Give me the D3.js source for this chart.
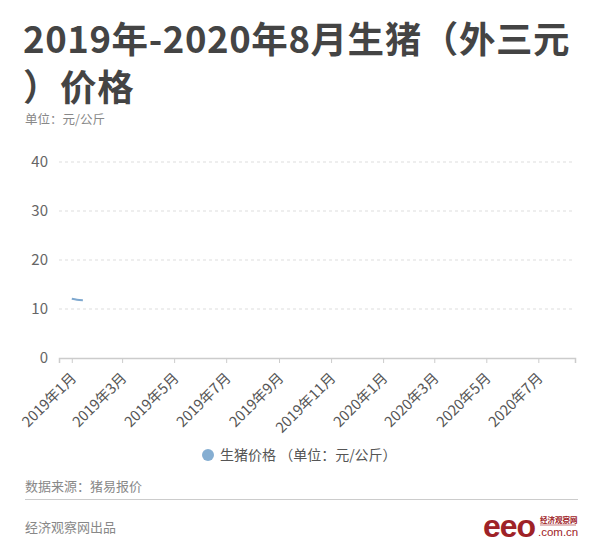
<!DOCTYPE html>
<html><head><meta charset="utf-8">
<script src="https://cdn.jsdelivr.net/npm/d3@7"></script>
<style>
html,body{margin:0;padding:0;background:#fff;}
svg{display:block;font-family:"Noto Sans CJK SC","Noto Sans",sans-serif;}
</style></head>
<body>
<svg id="c" width="600" height="557"></svg>
<script>
const titleLines = ["2019年-2020年8月生猪（外三元", "）价格"];
const unitText = "单位：元/公斤";
const seriesName = "生猪价格 （单位：元/公斤）";
const sourceText = "数据来源：猪易报价";
const producer = "经济观察网出品";
const dates = ["2019-01-01", "2019-01-07", "2019-01-14"];
const prices = [12.1, 11.9, 11.8];
const yTicks = [0, 10, 20, 30, 40];
const xDomain = ["2018-12-17", "2020-08-13"];

const svg = d3.select("#c");
const parse = d3.timeParse("%Y-%m-%d");
const data = dates.map((d, i) => ({date: parse(d), v: prices[i]}));

// title
svg.selectAll("text.title").data(titleLines).enter().append("text")
  .attr("class", "title")
  .attr("x", 23).attr("y", (d, i) => 53 + i * 48)
  .attr("font-size", 36.5).attr("font-weight", 700).attr("fill", "#444")
  .attr("letter-spacing", 0.6)
  .text(d => d);
svg.append("text").attr("x", 25).attr("y", 124).attr("font-size", 12.5)
  .attr("fill", "#888").text(unitText);

const x = d3.scaleTime().domain(xDomain.map(parse)).range([59, 575]);
const y = d3.scaleLinear().domain([0, 40]).range([358, 162]);

// grid
svg.append("g").selectAll("line").data(yTicks.filter(t => t > 0)).enter().append("line")
  .attr("x1", 59).attr("x2", 575).attr("y1", d => y(d)).attr("y2", d => y(d))
  .attr("stroke", "#ddd").attr("stroke-dasharray", "3,3");
svg.append("g").selectAll("text").data(yTicks).enter().append("text")
  .attr("x", 48).attr("y", d => y(d)).attr("dy", "0.35em").attr("text-anchor", "end")
  .attr("font-size", 15).attr("fill", "#666").text(d => d);

// x axis
const months = d3.timeMonth.every(2).range(parse("2019-01-01"), parse("2020-08-01"));
const fmt = d => d.getFullYear() + "年" + (d.getMonth() + 1) + "月";
const xAxis = d3.axisBottom(x).tickValues(months).tickFormat(fmt).tickSize(5).tickPadding(4);
const gx = svg.append("g").attr("transform", "translate(0,358)").call(xAxis);
gx.select(".domain").attr("stroke", "#ccc").attr("stroke-width", 1.5);
gx.selectAll(".tick line").attr("stroke", "#ccc");
gx.selectAll(".tick text").attr("font-size", 14.5).attr("fill", "#555")
  .attr("font-family", '"Noto Sans CJK SC",sans-serif')
  .attr("text-anchor", "end").attr("x", 0).attr("y", 0).attr("dy", 0)
  .attr("transform", "translate(5,21) rotate(-45)");

// line
const line = d3.line().x(d => x(d.date)).y(d => y(d.v)).curve(d3.curveMonotoneX);
svg.append("path").datum(data).attr("d", line).attr("fill", "none")
  .attr("stroke", "#7ea8cf").attr("stroke-width", 2);

// legend
svg.append("circle").attr("cx", 208).attr("cy", 455).attr("r", 6).attr("fill", "#85aed2");
svg.append("text").attr("x", 220).attr("y", 455).attr("dy", "0.35em")
  .attr("font-size", 14).attr("fill", "#555").text(seriesName);

svg.append("text").attr("x", 25).attr("y", 486).attr("dy", "0.35em")
  .attr("font-size", 13).attr("fill", "#888").text(sourceText);
svg.append("line").attr("x1", 25).attr("x2", 578).attr("y1", 499.5).attr("y2", 499.5)
  .attr("stroke", "#ccc");
svg.append("text").attr("x", 25).attr("y", 527).attr("dy", "0.35em")
  .attr("font-size", 13).attr("fill", "#888").text(producer);

// logo
const logo = svg.append("g").attr("transform", "translate(483,0)");
logo.append("text").attr("x", 0).attr("y", 537).attr("font-size", 32).attr("font-weight", 700)
  .attr("font-family", "Arial,'Liberation Sans',sans-serif").attr("fill", "#9e2227")
  .attr("letter-spacing", -1).text("eeo");
logo.append("text").attr("x", 57).attr("y", 523).attr("font-size", 7.5).attr("font-weight", 700)
  .attr("fill", "#9e2227").text("经济观察网");
logo.append("line").attr("x1", 57).attr("x2", 93).attr("y1", 525).attr("y2", 525).attr("stroke", "#9e2227").attr("stroke-width", 0.6);
logo.append("text").attr("x", 55).attr("y", 536).attr("font-size", 11.5)
  .attr("font-family", "Arial,'Liberation Sans',sans-serif").attr("fill", "#9e2227").text(".com.cn");
</script>
</body></html>
